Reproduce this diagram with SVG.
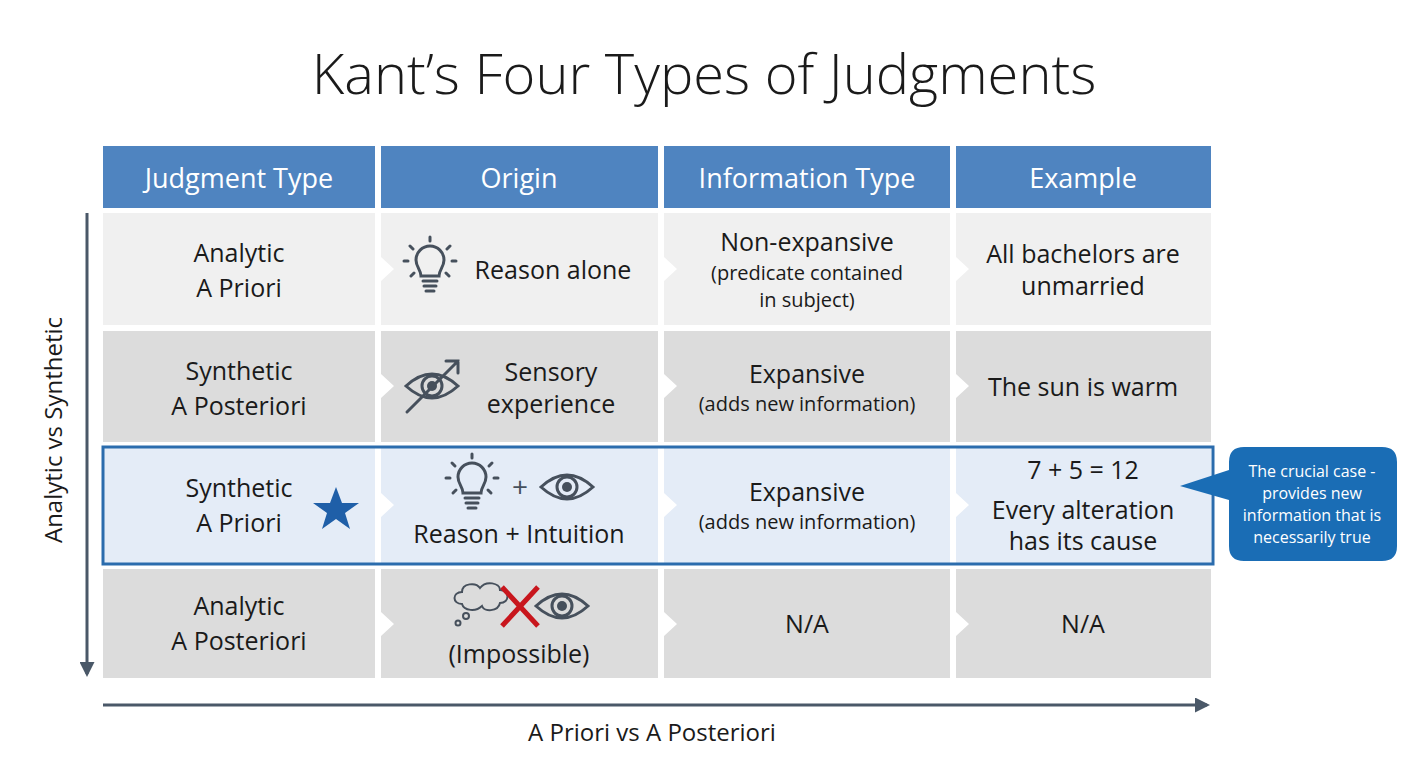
<svg xmlns="http://www.w3.org/2000/svg" width="1408" height="768" viewBox="0 0 1408 768">
<defs>
<style>
text{font-family:"Open Sans","Noto Sans",sans-serif;fill:#1a1a1a;text-anchor:middle}
.h{fill:#4f84c0}.ht{fill:#fff;font-size:27px}
.t{font-size:25px}.s{font-size:20px}
.ic{fill:none;stroke:#46505c;stroke-width:3;stroke-linecap:round}
.ax{stroke:#4a5868;stroke-width:3;fill:none}
</style>
<marker id="ar" viewBox="0 0 10 10" refX="8" refY="5" markerWidth="5" markerHeight="5" orient="auto"><path d="M0,0L10,5L0,10z" fill="#4a5868"/></marker>
<g id="bulb"><path class="ic" d="M-9,8 C-9,2 -14,-1 -14,-8 A14,14 0 1 1 14,-8 C14,-1 9,2 9,8 Z"/><path class="ic" d="M-7,13H7M-6,18H6M-4,23H4"/><path class="ic" d="M0,-31V-27M-20,-22L-17,-19M20,-22L17,-19M-26,-7H-22M22,-7H26M-19,8L-16,5M19,8L16,5"/></g>
<g id="eye"><path class="ic" d="M-26,0 Q0,-24 26,0 Q0,24 -26,0Z"/><circle r="10" fill="none" stroke="#46505c" stroke-width="3"/><circle r="5" fill="#46505c"/></g>
</defs>
<rect width="1408" height="768" fill="#fff"/>
<text x="704" y="94" style="font-size:56px;font-weight:300">Kant’s Four Types of Judgments</text>
<g id="header">
<rect class="h" x="103" y="146" width="272" height="62"/><text class="ht" x="239" y="188">Judgment Type</text>
<rect class="h" x="381" y="146" width="277" height="62"/><text class="ht" x="519" y="188">Origin</text>
<rect class="h" x="664" y="146" width="286" height="62"/><text class="ht" x="807" y="188">Information Type</text>
<rect class="h" x="956" y="146" width="255" height="62"/><text class="ht" x="1083" y="188">Example</text>
</g>
<g id="row1" fill="#f0f0f0">
<rect x="103" y="213" width="272" height="112"/>
<path d="M381,213H658V325H381V281L394,269L381,257Z"/>
<path d="M664,213H950V325H664V281L677,269L664,257Z"/>
<path d="M956,213H1211V325H956V281L969,269L956,257Z"/>
<text class="t" x="239" y="262">Analytic</text><text class="t" x="239" y="297">A Priori</text>
<use href="#bulb" x="430" y="268"/><text class="t" x="553" y="279">Reason alone</text>
<text class="t" x="807" y="251">Non-expansive</text><text class="s" x="807" y="280">(predicate contained</text><text class="s" x="807" y="307">in subject)</text>
<text class="t" x="1083" y="263">All bachelors are</text><text class="t" x="1083" y="295">unmarried</text>
</g>
<g id="row2" fill="#dcdcdc">
<rect x="103" y="331" width="272" height="111"/>
<path d="M381,331H658V442H381V398L394,386L381,374Z"/>
<path d="M664,331H950V442H664V398L677,386L664,374Z"/>
<path d="M956,331H1211V442H956V398L969,386L956,374Z"/>
<text class="t" x="239" y="380">Synthetic</text><text class="t" x="239" y="415">A Posteriori</text>
<use href="#eye" x="432" y="386"/><path class="ic" d="M407,412L458,361M446,361H458V373"/>
<text class="t" x="551" y="381">Sensory</text><text class="t" x="551" y="413">experience</text>
<text class="t" x="807" y="383">Expansive</text><text class="s" x="807" y="411">(adds new information)</text>
<text class="t" x="1083" y="396">The sun is warm</text>
</g>
<g id="row3" fill="#e4ecf7">
<rect x="103" y="448" width="272" height="115"/>
<path d="M381,448H658V563H381V517L394,505L381,493Z"/>
<path d="M664,448H950V563H664V517L677,505L664,493Z"/>
<path d="M956,448H1211V563H956V517L969,505L956,493Z"/>
<rect x="103" y="447" width="1110" height="117" fill="none" stroke="#2b6cad" stroke-width="3"/>
<text class="t" x="239" y="497">Synthetic</text><text class="t" x="239" y="532">A Priori</text>
<path d="M336,487L342,503L359,503L345,513L350,529L336,519L322,529L327,513L313,503L330,503Z" fill="#1f5fa8"/>
<use href="#bulb" x="472" y="485"/><text x="520" y="497" style="font-size:28px;fill:#46505c">+</text><use href="#eye" x="567" y="487"/>
<text class="t" x="519" y="543">Reason + Intuition</text>
<text class="t" x="807" y="501">Expansive</text><text class="s" x="807" y="529">(adds new information)</text>
<text class="t" x="1083" y="479">7 + 5 = 12</text><text class="t" x="1083" y="519">Every alteration</text><text class="t" x="1083" y="550">has its cause</text>
</g>
<g id="row4" fill="#dcdcdc">
<rect x="103" y="569" width="272" height="109"/>
<path d="M381,569H658V678H381V636L394,624L381,612Z"/>
<path d="M664,569H950V678H664V636L677,624L664,612Z"/>
<path d="M956,569H1211V678H956V636L969,624L956,612Z"/>
<text class="t" x="239" y="615">Analytic</text><text class="t" x="239" y="650">A Posteriori</text>
<path d="M462,604 C452,604 452,592 462,592 C462,583 476,582 480,588 C486,580 500,583 500,590 C510,590 510,603 500,603 C498,612 484,612 482,606 C476,612 464,611 462,604Z" fill="none" stroke="#46505c" stroke-width="2"/>
<circle cx="466" cy="616" r="3" fill="none" stroke="#46505c" stroke-width="2"/><circle cx="458" cy="623" r="2.5" fill="none" stroke="#46505c" stroke-width="2"/>
<path d="M502,587L538,626M538,587L502,626" stroke="#c8161d" stroke-width="5"/>
<use href="#eye" x="562" y="606"/>
<text class="t" x="519" y="663">(Impossible)</text>
<text class="t" x="807" y="633">N/A</text><text class="t" x="1083" y="633">N/A</text>
</g>
<g id="callout">
<path d="M1244,447H1382Q1397,447 1397,462V546Q1397,561 1382,561H1244Q1229,561 1229,546V500L1180,486L1229,470V462Q1229,447 1244,447Z" fill="#1a6db5"/>
<text x="1312" y="477" style="font-size:16px;fill:#fff">The crucial case -</text>
<text x="1312" y="499" style="font-size:16px;fill:#fff">provides new</text>
<text x="1312" y="521" style="font-size:16px;fill:#fff">information that is</text>
<text x="1312" y="543" style="font-size:16px;fill:#fff">necessarily true</text>
</g>
<g id="connectors">
<path class="ax" d="M87,213V674" marker-end="url(#ar)"/>
<path class="ax" d="M103,705H1207" marker-end="url(#ar)"/>
</g>
<text x="62" y="430" transform="rotate(-90 62 430)" style="font-size:24px">Analytic vs Synthetic</text>
<text x="652" y="741" style="font-size:24px">A Priori vs A Posteriori</text>
</svg>
